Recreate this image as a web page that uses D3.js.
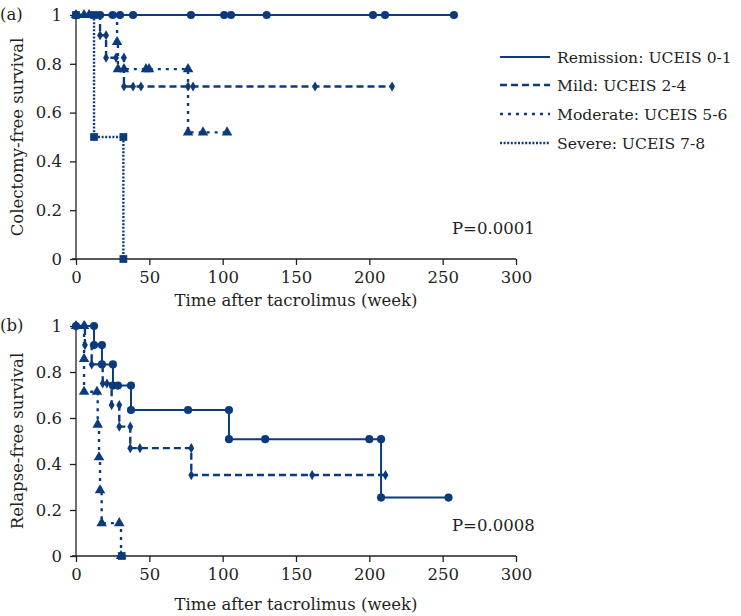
<!DOCTYPE html>
<html><head><meta charset="utf-8">
<script src="https://cdn.jsdelivr.net/npm/d3@7"></script>
<style>
body{margin:0;background:#fff}
text{font-family:"DejaVu Serif","Liberation Serif",serif;fill:#231f20}
</style>
</head><body>
<svg id="c" width="741" height="616"></svg>
<script>
// ---- data ----
const xTicks=[0,50,100,150,200,250,300];
const yTicks=[0,0.2,0.4,0.6,0.8,1];
const seriesNames=["Remission: UCEIS 0-1","Mild: UCEIS 2-4","Moderate: UCEIS 5-6","Severe: UCEIS 7-8"];
const xTitle="Time after tacrolimus (week)";
const yTitleA="Colectomy-free survival";
const yTitleB="Relapse-free survival";
const pA="P=0.0001", pB="P=0.0008";

// panel (a) colectomy-free survival: [week, survival] points
const colRemission=[[0,1],[16.4,1],[25,1],[30,1],[38.9,1],[78.4,1],[101,1],[105.7,1],[130,1],[202.5,1],[210.7,1],[257.7,1]];
const colMild=[[0,1],[16.4,0.917],[20.5,0.917],[20.5,0.825],[27.3,0.825],[32.7,0.825],[32.7,0.707],[38.9,0.707],[44.3,0.707],[76.4,0.707],[79.8,0.707],[163,0.707],[215.5,0.707]];
const colModerate=[[0,1],[5.5,1],[8.9,1],[28,0.889],[28.6,0.778],[32.7,0.778],[47.7,0.778],[49.8,0.778],[76.4,0.778],[76.4,0.519],[86.6,0.519],[103,0.519]];
const colSevere=[[0,1],[12.3,1],[12.3,0.5],[32.3,0.5],[32.3,0]];

// panel (b) relapse-free survival
const relRemission=[[0,1],[12.3,1],[12.3,0.917],[17.7,0.917],[17.7,0.833],[25.2,0.833],[25.2,0.741],[28.6,0.741],[37.5,0.741],[37.5,0.635],[76.4,0.635],[104.3,0.635],[104.3,0.508],[129,0.508],[200,0.508],[208,0.508],[208,0.254],[254,0.254]];
const relMild=[[0,1],[6.1,1],[6.1,0.917],[10.7,0.833],[18.2,0.75],[21.1,0.75],[24.3,0.656],[29.5,0.656],[29.5,0.5625],[37,0.5625],[37,0.469],[43.6,0.469],[78.6,0.469],[78.6,0.352],[161,0.352],[211,0.352]];
const relModerate=[[0,1],[5.5,1],[5.5,0.857],[5.5,0.714],[14.3,0.714],[14.8,0.571],[15.7,0.429],[16.4,0.286],[17.5,0.143],[29.5,0.143],[30.7,0]];
const relSevere=[[31.2,0]];

// ---- styles ----
const color="#0b3b7c";
const FONT='"DejaVu Serif","Liberation Serif",serif';
const FS="16.5px";
const styles=[
  {dash:null,width:2,sym:d3.symbolCircle,size:52},
  {dash:"7,4",width:2.4,sym:d3.symbolDiamond,size:30},
  {dash:"3,5",width:2.4,sym:d3.symbolTriangle,size:48},
  {dash:"2,1.6",width:2.4,sym:d3.symbolSquare,size:60}
];

const svg=d3.select("#c");
const x=d3.scaleLinear().domain([0,300]).range([76,516]);

function panel(y0,y1,series,yTitle,ptext,label,titleOff){
  const y=d3.scaleLinear().domain([0,1]).range([y0,y1]);
  const g=svg.append("g");
  const fmt=d=>(d===0||d===1)?String(d):d.toFixed(1);
  const ya=g.append("g").attr("transform","translate(76,0)")
    .call(d3.axisLeft(y).tickValues(yTicks).tickFormat(fmt).tickSize(6).tickSizeOuter(0).tickPadding(8));
  const xa=g.append("g").attr("transform",`translate(0,${y0})`)
    .call(d3.axisBottom(x).tickValues(xTicks).tickSize(6).tickSizeOuter(0).tickPadding(6));
  [ya,xa].forEach(a=>{
    a.attr("font-family",FONT);
    a.selectAll("text").style("font-family",FONT).style("font-size",FS).attr("fill","#231f20");
    a.selectAll("path,line").attr("stroke","#231f20").attr("stroke-width",1.3);
  });
  ya.select(".domain").attr("d",`M0,${y1}V${y0}`);
  xa.select(".domain").attr("d",`M72,0H516`);

  g.append("text").attr("x",296).attr("y",y0+titleOff).attr("text-anchor","middle")
    .style("font-size",FS).text(xTitle);
  g.append("text").attr("transform",`translate(23,${(y0+y1)/2}) rotate(-90)`).attr("text-anchor","middle")
    .style("font-size",FS).text(yTitle);
  g.append("text").attr("x",452).attr("y",y0-25).style("font-size",FS).text(ptext);
  g.append("text").attr("x",0).attr("y",y1+5).style("font-size",FS).text(label);

  const line=d3.line().x(d=>x(d[0])).y(d=>y(d[1])).curve(d3.curveStepAfter);
  series.forEach((s,i)=>{
    const st=styles[i];
    if(s.length>1){
      g.append("path").datum(s).attr("d",line).attr("fill","none")
        .attr("stroke",color).attr("stroke-width",st.width)
        .attr("stroke-dasharray",st.dash);
    }
    g.selectAll(null).data(s).enter().append("path")
      .attr("transform",d=>`translate(${x(d[0])},${y(d[1])})`)
      .attr("d",d3.symbol().type(st.sym).size(st.size)).attr("fill",color);
  });
}

panel(259,15,[colRemission,colMild,colModerate,colSevere],yTitleA,pA,"(a)",47);
panel(556,326,[relRemission,relMild,relModerate,relSevere],yTitleB,pB,"(b)",54);

// legend
const lg=svg.append("g");
const rows=[57,85,114,143];
seriesNames.forEach((n,i)=>{
  const st=styles[i];
  lg.append("line").attr("x1",500).attr("x2",550).attr("y1",rows[i]).attr("y2",rows[i])
    .attr("stroke",color).attr("stroke-width",st.width).attr("stroke-dasharray",st.dash);
  lg.append("text").attr("x",557).attr("y",rows[i]+6).style("font-size","15.6px").text(n);
});
</script>
</body></html>
